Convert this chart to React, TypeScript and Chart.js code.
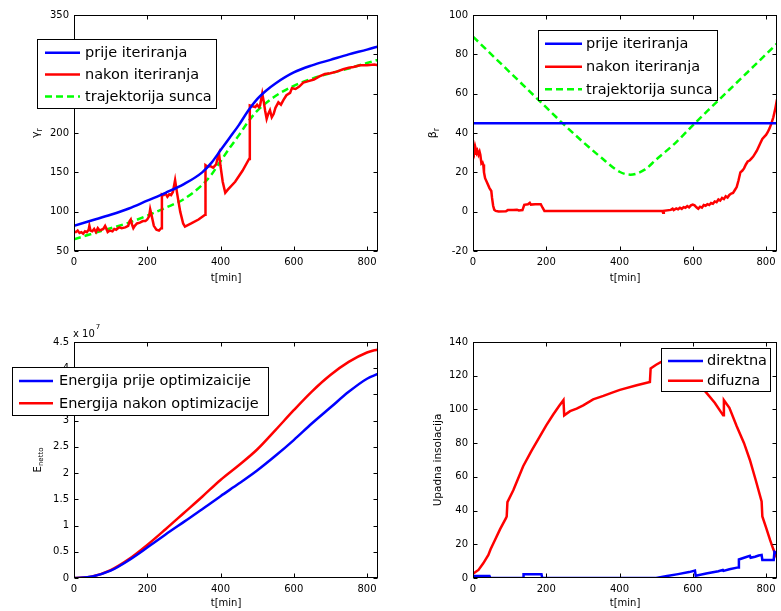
import React, { useEffect, useRef } from 'react';
import { Chart, registerables } from 'chart.js';

Chart.register(...registerables);

const FONT = '"DejaVu Sans", "Liberation Sans", sans-serif';
const BLUE = '#0000ff';
const RED = '#ff0000';
const GREEN = '#00ff00';
const LINE_W = 2.5;

// ---------- shared x axis ----------
const timeTicks = [0, 200, 400, 600, 800];
const timeMax = 830;
const timeLabel = 't[min]';

// ---------- panel 1: gamma_r ----------
const gammaTicks = [50, 100, 150, 200, 250, 300, 350];
const gammaBeforeT = [0, 50, 100, 150, 200, 250, 300, 350, 375, 400, 425, 450, 475, 500, 525, 550, 600, 650, 700, 750, 800, 830];
const gammaBeforeV = [82, 89, 96, 104, 114, 124, 135, 150, 162, 178, 194, 210, 228, 243, 254, 263, 277, 286, 293, 300, 306, 310];
const gammaAfterT = [0, 5, 10, 15, 20, 25, 30, 35, 40, 42, 45, 50, 55, 60, 65, 70, 75, 80, 85, 88, 92, 98, 105, 110, 115, 120, 125, 130, 140, 148, 152, 155, 158, 162, 166, 172, 180, 188, 195, 200, 205, 208, 212, 218, 225, 232, 238, 240, 245, 250, 255, 260, 265, 270, 276, 282, 290, 298, 303, 320, 340, 358, 359, 365, 372, 380, 388, 393, 396, 400, 406, 413, 420, 440, 460, 478, 480, 487, 495, 500, 505, 508, 514, 518, 522, 526, 530, 535, 540, 545, 550, 558, 565, 572, 580, 590, 595, 605, 615, 626, 640, 655, 670, 685, 700, 717, 735, 750, 763, 781, 800, 820, 830];
const gammaAfterV = [75, 74, 76, 73, 74, 72, 75, 74, 77, 82, 76, 75, 78, 74, 79, 76, 77, 78, 82, 79, 74, 76, 75, 78, 77, 79, 80, 79, 80, 82, 88, 90, 84, 79, 82, 85, 86, 88, 88, 90, 94, 103, 95, 82, 77, 76, 79, 122, 121, 123, 119, 122, 121, 125, 140, 122, 100, 85, 81, 85, 90, 96, 159, 157, 158, 156, 160, 170, 174, 158, 138, 124, 128, 138, 152, 167, 235, 234, 233, 236, 233, 235, 250, 240, 228, 218, 224, 229, 220, 224, 232, 239, 236, 242, 248, 251, 257, 256, 259, 264, 266, 268, 272, 275, 276, 278, 281, 283, 284, 286, 286, 287, 286];
const gammaSunT = [0, 50, 100, 150, 200, 250, 300, 350, 375, 400, 425, 450, 475, 500, 550, 600, 650, 700, 750, 800, 830];
const gammaSunV = [65, 72, 79, 86, 95, 105, 116, 134, 147, 164, 181, 197, 214, 228, 247, 260, 269, 276, 282, 289, 293];

// ---------- panel 2: beta_r ----------
const betaTicks = [-20, 0, 20, 40, 60, 80, 100];
const betaBeforeT = [0, 830];
const betaBeforeV = [45, 45];
const betaAfterT = [0, 2, 4, 6, 8, 10, 12, 15, 18, 20, 23, 26, 28, 30, 33, 38, 45, 50, 52, 55, 58, 62, 70, 90, 95, 110, 120, 125, 135, 140, 150, 155, 158, 170, 185, 190, 195, 250, 400, 517, 519, 521, 540, 545, 548, 555, 560, 565, 570, 575, 580, 585, 590, 595, 600, 605, 610, 615, 620, 625, 630, 635, 640, 645, 650, 655, 660, 665, 670, 675, 680, 685, 690, 695, 700, 705, 710, 715, 720, 725, 730, 735, 740, 745, 750, 755, 760, 765, 770, 775, 780, 785, 790, 795, 800, 805, 810, 815, 820, 825, 830];
const betaAfterV = [31, 30, 32, 29.5, 31.5, 30, 31, 29, 30.5, 29, 24.5, 25, 24, 20, 17, 15, 12, 10.5, 7, 3, 1, 0.4, 0.1, 0.2, 0.8, 0.8, 1.0, 0.6, 0.8, 3.5, 3.8, 4.5, 3.6, 3.8, 3.8, 2, 0.4, 0.4, 0.4, 0.4, -0.6, 0.4, 0.9, 1.5, 0.8, 1.6, 1.2, 2.0, 1.4, 2.3, 2.0, 2.8, 2.2, 3.2, 3.6, 3.2, 2.2, 1.5, 2.5, 2.0, 3.4, 3.0, 3.8, 3.4, 4.4, 4.0, 5.2, 4.8, 6.2, 5.6, 7, 6.4, 7.8, 7.2, 8.5, 9.2, 9.5, 11, 12.5, 16, 20, 20.8, 22, 24, 25.5, 26, 27, 28, 29.5, 31, 33, 35, 37, 38, 39, 40.5, 42.5, 45, 48, 52, 57];
const betaSunT = [0, 50, 100, 150, 200, 250, 300, 350, 400, 430, 470, 500, 550, 606, 650, 700, 750, 800, 830];
const betaSunV = [89, 80, 71, 62, 53, 44, 35.5, 27.5, 20.3, 18.8, 21.5, 26.5, 34.5, 45, 53, 62, 71, 80, 85.5];

// ---------- panel 3: net energy (x 10^7) ----------
const energyTicks = [0, 0.5, 1, 1.5, 2, 2.5, 3, 3.5, 4, 4.5];
const energyT = [0, 50, 100, 150, 200, 250, 300, 350, 400, 450, 500, 550, 600, 650, 700, 750, 800, 830];
const energyBeforeV = [0, 0.03, 0.14, 0.34, 0.58, 0.83, 1.07, 1.31, 1.56, 1.8, 2.05, 2.33, 2.63, 2.95, 3.25, 3.55, 3.8, 3.89];
const energyAfterV = [0, 0.03, 0.15, 0.36, 0.63, 0.93, 1.24, 1.55, 1.87, 2.15, 2.45, 2.82, 3.2, 3.56, 3.87, 4.12, 4.3, 4.36];

// ---------- panel 4: insolation ----------
const insolTicks = [0, 20, 40, 60, 80, 100, 120, 140];
const directT = [0, 45, 47, 137, 138, 187, 189, 500, 530, 560, 590, 606, 608, 640, 670, 682, 684, 700, 724, 726, 740, 756, 758, 770, 780, 788, 790, 821, 823, 830];
const directV = [1.2, 1.2, 0, 0, 2.2, 2.2, 0, 0, 1.2, 2.3, 3.5, 4.4, 1.4, 2.8, 4, 4.8, 4.2, 5.2, 6.3, 11, 12, 13.1, 12, 12.6, 13.3, 13.7, 10.7, 10.7, 15.5, 14.5];
const diffuseT = [0, 15, 28, 42, 48, 60, 74, 90, 92, 94, 110, 137, 160, 183, 200, 219, 235, 247, 249, 265, 283, 301, 328, 356, 380, 401, 447, 483, 485, 500, 520, 545, 570, 600, 633, 660, 683, 685, 700, 720, 740, 756, 772, 788, 790, 800, 811, 820, 830];
const diffuseV = [2.5, 4.8, 8.7, 13.7, 17, 22.6, 29, 35.5, 36.5, 45, 52, 66.3, 75.5, 84.2, 90.5, 97, 102, 105.5, 96.5, 99, 100.5, 102.4, 106, 108, 110, 111.6, 114.3, 116.3, 124.3, 126.5, 129, 131, 127, 120, 111, 104, 96.5, 105.5, 101, 90, 80, 70, 58, 45.4, 36.5, 30, 22.6, 17, 12];

const pts = (t: number[], v: number[]) => t.map((x, i) => ({ x, y: v[i] }));

function series(label: string, t: number[], v: number[], color: string, smooth: boolean, dash?: number[]) {
  return {
    label,
    data: pts(t, v),
    borderColor: color,
    backgroundColor: color,
    borderWidth: LINE_W,
    borderDash: dash || [],
    pointRadius: 0,
    fill: false,
    tension: smooth ? 0.4 : 0,
    cubicInterpolationMode: smooth ? 'monotone' : 'default',
  };
}

type Spec = {
  width: number;
  height: number;
  area: { left: number; top: number; right: number; bottom: number };
  yTicks: number[];
  xTitlePad: number;
  yLabel: { main: string; sub?: string; x: number; y: number; size: number };
  legend: { x: number; y: number; w: number; h: number; sx0: number; sx1: number; tx: number; rows: number[] };
  exponent?: { x: number; y: number; base: string; pow: string };
  datasets: any[];
};

function makeDecor(spec: Spec) {
  return {
    id: 'matlabDecor',
    afterDraw(chart: any) {
      const { ctx, chartArea: a } = chart;
      const xs = chart.scales.x;
      const ys = chart.scales.y;
      ctx.save();
      ctx.setLineDash([]);
      const L = Math.round(a.left) + 0.5;
      const R = Math.round(a.right) - 0.5;
      const T = Math.round(a.top) + 0.5;
      const B = Math.round(a.bottom) - 0.5;
      ctx.strokeStyle = '#000';
      ctx.lineWidth = 1;
      ctx.strokeRect(L, T, R - L, B - T);
      ctx.beginPath();
      const tl = 4;
      xs.ticks.forEach((t: any) => {
        const p = Math.round(xs.getPixelForValue(t.value)) + 0.5;
        ctx.moveTo(p, B); ctx.lineTo(p, B - tl);
        ctx.moveTo(p, T); ctx.lineTo(p, T + tl);
      });
      ys.ticks.forEach((t: any) => {
        const p = Math.round(ys.getPixelForValue(t.value)) + 0.5;
        ctx.moveTo(L, p); ctx.lineTo(L + tl, p);
        ctx.moveTo(R, p); ctx.lineTo(R - tl, p);
      });
      ctx.stroke();

      // y label (rotated, with subscript)
      const yl = spec.yLabel;
      ctx.save();
      ctx.translate(yl.x, yl.y);
      ctx.rotate(-Math.PI / 2);
      ctx.fillStyle = '#000';
      ctx.textBaseline = 'middle';
      ctx.textAlign = 'left';
      const mainFont = `${yl.size}px ${FONT}`;
      const subFont = `${Math.round(yl.size * 0.72)}px ${FONT}`;
      ctx.font = mainFont;
      const wm = ctx.measureText(yl.main).width;
      ctx.font = subFont;
      const ws = yl.sub ? ctx.measureText(yl.sub).width : 0;
      const x0 = -(wm + ws) / 2;
      ctx.font = mainFont;
      ctx.fillText(yl.main, x0, 0);
      if (yl.sub) {
        ctx.font = subFont;
        ctx.fillText(yl.sub, x0 + wm, 3.5);
      }
      ctx.restore();

      // exponent label
      if (spec.exponent) {
        const e = spec.exponent;
        ctx.fillStyle = '#000';
        ctx.textAlign = 'left';
        ctx.textBaseline = 'alphabetic';
        ctx.font = `10px ${FONT}`;
        ctx.fillText(e.base, e.x, e.y);
        const w = ctx.measureText(e.base).width;
        ctx.font = `7px ${FONT}`;
        ctx.fillText(e.pow, e.x + w + 1, e.y - 8);
      }

      // legend box
      const lg = spec.legend;
      ctx.fillStyle = '#fff';
      ctx.fillRect(lg.x, lg.y, lg.w, lg.h);
      ctx.strokeStyle = '#000';
      ctx.lineWidth = 1;
      ctx.strokeRect(lg.x + 0.5, lg.y + 0.5, lg.w - 1, lg.h - 1);
      chart.data.datasets.forEach((ds: any, i: number) => {
        const y = lg.rows[i];
        ctx.strokeStyle = ds.borderColor;
        ctx.lineWidth = LINE_W;
        ctx.setLineDash(ds.borderDash || []);
        ctx.beginPath();
        ctx.moveTo(lg.sx0, y);
        ctx.lineTo(lg.sx1, y);
        ctx.stroke();
        ctx.setLineDash([]);
        ctx.fillStyle = '#000';
        ctx.font = `14.5px ${FONT}`;
        ctx.textBaseline = 'middle';
        ctx.textAlign = 'left';
        ctx.fillText(ds.label, lg.tx, y + 0.5);
      });
      ctx.restore();
    },
  };
}

function buildConfig(spec: Spec): any {
  const tickFont = { family: FONT, size: 10 };
  return {
    type: 'line',
    data: { datasets: spec.datasets },
    options: {
      responsive: false,
      animation: false,
      events: [],
      layout: { padding: { left: 0, top: spec.area.top, right: spec.width - spec.area.right, bottom: 0 } },
      plugins: { legend: { display: false }, tooltip: { enabled: false }, title: { display: false } },
      scales: {
        x: {
          type: 'linear',
          min: 0,
          max: timeMax,
          afterBuildTicks: (s: any) => { s.ticks = timeTicks.map((v) => ({ value: v })); },
          afterFit: (s: any) => { s.height = spec.height - spec.area.bottom; },
          grid: { display: false, drawTicks: false },
          border: { display: false },
          ticks: { font: tickFont, color: '#000', padding: 5, autoSkip: false, maxRotation: 0, callback: (v: any) => String(v) },
          title: { display: true, text: timeLabel, font: tickFont, color: '#000', padding: { top: 0, bottom: spec.xTitlePad } },
        },
        y: {
          type: 'linear',
          min: spec.yTicks[0],
          max: spec.yTicks[spec.yTicks.length - 1],
          afterBuildTicks: (s: any) => { s.ticks = spec.yTicks.map((v) => ({ value: v })); },
          afterFit: (s: any) => { s.width = spec.area.left; },
          grid: { display: false, drawTicks: false },
          border: { display: false },
          ticks: { font: tickFont, color: '#000', padding: 5, autoSkip: false, callback: (v: any) => String(v) },
        },
      },
    },
    plugins: [makeDecor(spec)],
  };
}

function Panel({ left, top, spec }: { left: number; top: number; spec: Spec }) {
  const ref = useRef<HTMLCanvasElement>(null);
  useEffect(() => {
    const chart = new Chart(ref.current as HTMLCanvasElement, buildConfig(spec));
    return () => chart.destroy();
  }, []);
  return (
    <canvas
      ref={ref}
      width={spec.width}
      height={spec.height}
      style={{ position: 'absolute', left, top, width: spec.width, height: spec.height }}
    />
  );
}

const specGamma: Spec = {
  width: 390,
  height: 300,
  area: { left: 74, top: 15, right: 378, bottom: 251 },
  yTicks: gammaTicks,
  xTitlePad: 16,
  yLabel: { main: 'γ', sub: 'r', x: 36, y: 133, size: 11 },
  legend: { x: 37, y: 39, w: 180, h: 70, sx0: 45, sx1: 80, tx: 85, rows: [52.7, 74.5, 96.5] },
  datasets: [
    series('prije iteriranja', gammaBeforeT, gammaBeforeV, BLUE, true),
    series('nakon iteriranja', gammaAfterT, gammaAfterV, RED, false),
    series('trajektorija sunca', gammaSunT, gammaSunV, GREEN, true, [7, 4]),
  ],
};

const specBeta: Spec = {
  width: 391,
  height: 300,
  area: { left: 83, top: 15, right: 387, bottom: 251 },
  yTicks: betaTicks,
  xTitlePad: 16,
  yLabel: { main: 'β', sub: 'r', x: 43, y: 133, size: 11 },
  legend: { x: 148, y: 30, w: 180, h: 71, sx0: 155, sx1: 192, tx: 196, rows: [43.7, 66.7, 89.3] },
  datasets: [
    series('prije iteriranja', betaBeforeT, betaBeforeV, BLUE, false),
    series('nakon iteriranja', betaAfterT, betaAfterV, RED, false),
    series('trajektorija sunca', betaSunT, betaSunV, GREEN, true, [7, 4]),
  ],
};

const specEnergy: Spec = {
  width: 390,
  height: 311,
  area: { left: 74, top: 42, right: 378, bottom: 278 },
  yTicks: energyTicks,
  xTitlePad: 2,
  yLabel: { main: 'E', sub: 'netto', x: 38, y: 160, size: 10 },
  legend: { x: 12, y: 67, w: 257, h: 49, sx0: 19, sx1: 53, tx: 59, rows: [81, 103.3] },
  exponent: { x: 73, y: 36.5, base: 'x 10', pow: '7' },
  datasets: [
    series('Energija prije optimizaicije', energyT, energyBeforeV, BLUE, true),
    series('Energija nakon optimizacije', energyT, energyAfterV, RED, true),
  ],
};

const specInsol: Spec = {
  width: 391,
  height: 311,
  area: { left: 83, top: 42, right: 387, bottom: 278 },
  yTicks: insolTicks,
  xTitlePad: 2,
  yLabel: { main: 'Upadna insolacija', x: 48, y: 160, size: 10.5 },
  legend: { x: 271, y: 48, w: 110, h: 44, sx0: 278, sx1: 313, tx: 317, rows: [61, 80.7] },
  datasets: [
    series('direktna', directT, directV, BLUE, false),
    series('difuzna', diffuseT, diffuseV, RED, false),
  ],
};

export default function App() {
  return (
    <div style={{ position: 'absolute', left: 0, top: 0, width: 781, height: 611, background: '#fff', overflow: 'hidden' }}>
      <Panel left={0} top={0} spec={specGamma} />
      <Panel left={390} top={0} spec={specBeta} />
      <Panel left={0} top={300} spec={specEnergy} />
      <Panel left={390} top={300} spec={specInsol} />
    </div>
  );
}
